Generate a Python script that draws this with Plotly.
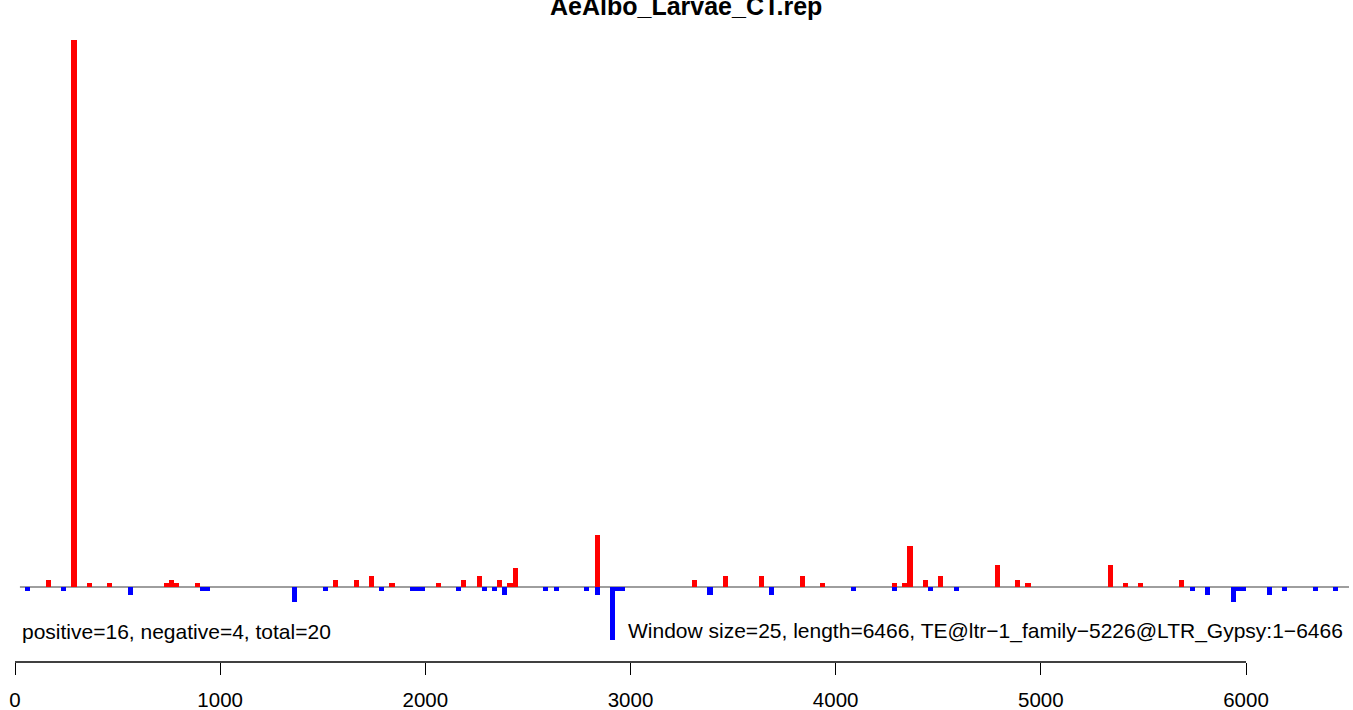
import plotly.graph_objects as go

TITLE = "AeAlbo_Larvae_CT.rep"
WINDOW = 25
LENGTH = 6466
LEFT_TEXT = "positive=16, negative=4, total=20"
RIGHT_TEXT = "Window size=25, length=6466, TE@ltr\u22121_family\u22125226@LTR_Gypsy:1\u22126466"
TICKS = [0, 1000, 2000, 3000, 4000, 5000, 6000]

# window index -> value (positive strand)
pos_windows = [6, 11, 14, 18, 29, 30, 31, 35, 62, 66, 69, 73, 82, 87, 90, 94, 96, 97,
               113, 132, 138, 145, 153, 157, 171, 173, 174, 177, 180, 191, 195, 197,
               213, 216, 219, 227]
pos_values = [2, 146, 1, 1, 1, 2, 1, 1, 2, 2, 3, 1, 1, 2, 3, 2, 1, 5,
              14, 2, 3, 3, 3, 1, 1, 1, 11, 2, 3, 6, 2, 1,
              6, 1, 1, 2]

# window index -> value (negative strand)
neg_windows = [2, 9, 22, 36, 37, 54, 60, 71, 77, 78, 79, 86, 91, 93, 95, 103, 105, 111,
               113, 116, 117, 118, 135, 147, 163, 171, 178, 183, 229, 232, 237, 238,
               239, 244, 247, 253, 257]
neg_values = [-1, -1, -2, -1, -1, -4, -1, -1, -1, -1, -1, -1, -1, -1, -2, -1, -1, -1,
              -2, -14, -1, -1, -2, -2, -1, -1, -1, -1, -1, -2, -4, -1,
              -1, -2, -1, -1, -1]

pos_x = [w * WINDOW + WINDOW / 2 for w in pos_windows]
neg_x = [w * WINDOW + WINDOW / 2 for w in neg_windows]

W, H = 1353, 710
# pixel calibration
X0_PX = 15.0
PX_PER_UNIT_X = (1246 - 15) / 6000.0
BASE_PX = 587.0
PX_PER_UNIT_Y = 3.75

x_range = [(0 - X0_PX) / PX_PER_UNIT_X, (W - X0_PX) / PX_PER_UNIT_X]
y_range = [-(H - BASE_PX) / PX_PER_UNIT_Y, BASE_PX / PX_PER_UNIT_Y]

FONT = "Liberation Sans, Arial, Helvetica, sans-serif"

fig = go.Figure()
fig.add_trace(go.Bar(x=pos_x, y=pos_values, width=WINDOW, marker=dict(color="#FF0000", line=dict(width=0)),
                     showlegend=False, hoverinfo="x+y"))
fig.add_trace(go.Bar(x=neg_x, y=neg_values, width=WINDOW, marker=dict(color="#0000FF", line=dict(width=0)),
                     showlegend=False, hoverinfo="x+y"))

axis_y_paper = (H - 662) / H

shapes = [
    # zero baseline
    dict(type="line", xref="x", yref="y", x0=24, x1=6502, y0=0, y1=0,
         line=dict(color="#9E9E9E", width=2), layer="below"),
    # axis line from first to last tick (R style)
    dict(type="line", xref="x", yref="paper", x0=TICKS[0], x1=TICKS[-1],
         y0=axis_y_paper, y1=axis_y_paper, line=dict(color="black", width=1.3)),
]

annotations = [
    dict(text="<b>" + TITLE + "</b>", xref="paper", yref="paper", x=686 / W, y=1 - 22 / H,
         xanchor="center", yanchor="bottom", showarrow=False,
         font=dict(family=FONT, size=25, color="black")),
    dict(text=LEFT_TEXT, xref="x", yref="paper", x=0, xshift=5, y=(H - 631) / H,
         xanchor="left", yanchor="middle", showarrow=False,
         font=dict(family=FONT, size=21, color="black")),
    dict(text=RIGHT_TEXT, xref="x", yref="paper", x=LENGTH, xshift=3, y=(H - 631) / H,
         xanchor="right", yanchor="middle", showarrow=False,
         font=dict(family=FONT, size=21, color="black")),
]

fig.update_layout(
    width=W, height=H,
    margin=dict(l=0, r=0, t=0, b=0, pad=0),
    paper_bgcolor="white", plot_bgcolor="white",
    barmode="overlay", bargap=0,
    shapes=shapes, annotations=annotations,
    xaxis=dict(range=x_range, anchor="free", position=axis_y_paper,
               tickvals=TICKS, ticktext=[str(t) for t in TICKS],
               ticks="outside", ticklen=12, tickwidth=1.3, tickcolor="black",
               showline=False, showgrid=False, zeroline=False,
               ticklabelstandoff=7,
               tickfont=dict(family=FONT, size=20.5, color="black"),
               automargin=False, fixedrange=True),
    yaxis=dict(range=y_range, visible=False, showgrid=False, zeroline=False,
               automargin=False, fixedrange=True),
)

fig.write_html("out.html",
               config={"displayModeBar": False, "staticPlot": False},
               post_script="document.body.style.margin='0';document.body.style.padding='0';"
                           "document.body.style.overflow='hidden';")
